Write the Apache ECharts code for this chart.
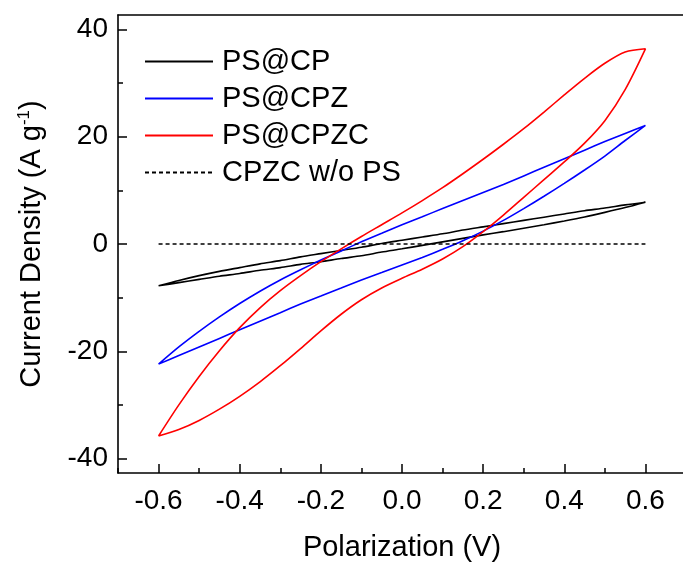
<!DOCTYPE html>
<html>
<head>
<meta charset="utf-8">
<script src="https://cdn.jsdelivr.net/npm/echarts@6/dist/echarts.min.js"></script>
<style>
html,body{margin:0;padding:0;background:#fff;}
#chart{width:683px;height:563px;}
</style>
</head>
<body>
<div id="chart"></div>
<script>
// Shared voltage grid (V), ascending from -0.6 to 0.6
var voltage = [-0.6,-0.55,-0.5,-0.45,-0.4,-0.35,-0.3,-0.25,-0.2,-0.15,-0.1,-0.05,0,0.05,0.1,0.15,0.2,0.25,0.3,0.35,0.4,0.45,0.5,0.55,0.6];

// PS@CP (A g^-1): forward (upper) and reverse (lower) branches, listed in ascending voltage
var cpUpper = [-7.8,-6.8,-5.9,-5.1,-4.4,-3.7,-3.1,-2.4,-1.8,-1.2,-0.6,0.1,0.7,1.3,1.9,2.6,3.2,3.8,4.4,5.0,5.6,6.2,6.7,7.3,7.8];
var cpLower = [-7.8,-7.2,-6.6,-6.0,-5.5,-4.9,-4.4,-3.8,-3.3,-2.7,-2.2,-1.5,-0.9,-0.25,0.4,1.05,1.7,2.3,2.95,3.6,4.3,5.05,5.9,6.8,7.8];

// PS@CPZ
var cpzUpper = [-22.4,-19.2,-16.3,-13.6,-11.1,-8.8,-6.7,-4.8,-3.0,-1.3,0.4,2.0,3.6,5.1,6.6,8.1,9.6,11.1,12.7,14.3,15.9,17.5,19.1,20.6,22.1];
var cpzLower = [-22.4,-20.8,-19.2,-17.6,-16.0,-14.4,-12.8,-11.2,-9.7,-8.2,-6.7,-5.3,-3.9,-2.5,-1.0,0.6,2.4,4.4,6.6,8.9,11.3,13.8,16.4,19.3,22.1];

// PS@CPZC
var cpzcUpper = [-35.8,-30.0,-24.7,-19.9,-15.6,-11.9,-8.7,-5.9,-3.3,-0.9,1.4,3.6,5.8,8.1,10.5,13.1,15.8,18.6,21.5,24.6,27.8,30.9,33.7,35.8,36.4];
var cpzcLower = [-35.8,-34.6,-32.9,-30.8,-28.4,-25.7,-22.7,-19.5,-16.2,-13.1,-10.4,-8.2,-6.4,-4.7,-2.8,-0.5,2.3,5.4,8.7,12.0,15.3,18.8,23.0,28.8,36.4];

// CPZC w/o PS
var bareV = [-0.6, 0.6];
var bareJ = [0, 0];

// Axis ticks
var xMajorTicks = [-0.6,-0.4,-0.2,0,0.2,0.4,0.6];
var xMinorTicks = [-0.7,-0.5,-0.3,-0.1,0.1,0.3,0.5];
var yMajorTicks = [-40,-20,0,20,40];
var yMinorTicks = [-30,-10,10,30];

var seriesNames = ['PS@CP','PS@CPZ','PS@CPZC','CPZC w/o PS'];

function loop(upper, lower) {
  var pts = [];
  for (var i = 0; i < voltage.length; i++) pts.push([voltage[i], upper[i]]);
  for (var j = voltage.length - 1; j >= 0; j--) pts.push([voltage[j], lower[j]]);
  return pts;
}
function pairs(xs, ys) {
  return xs.map(function (x, i) { return [x, ys[i]]; });
}

var FONT = 'Liberation Sans, Arial, sans-serif';
var X_MIN = -0.7, X_MAX = 0.7, Y_MIN = -42.7, Y_MAX = 42.7;

var chart = echarts.init(document.getElementById('chart'));
chart.setOption({
  animation: false,
  backgroundColor: '#ffffff',
  textStyle: { fontFamily: FONT },
  grid: { left: 118, top: 15, width: 568, height: 458, outerBoundsMode: 'none', containLabel: false },
  legend: {
    orient: 'vertical',
    left: 144,
    top: 47,
    padding: 0,
    itemWidth: 68,
    itemHeight: 14,
    itemGap: 8,
    data: seriesNames,
    itemStyle: { opacity: 0 },
    textStyle: { fontSize: 29, color: '#000', fontFamily: FONT, lineHeight: 29, padding: [0, 0, 0, 4] }
  },
  xAxis: [{
    type: 'value', min: X_MIN, max: X_MAX, position: 'bottom',
    name: 'Polarization (V)', nameLocation: 'middle', nameGap: 60,
    nameTextStyle: { fontSize: 29, color: '#000', fontFamily: FONT },
    axisLine: { show: true, onZero: false, lineStyle: { color: '#000', width: 1.6 } },
    axisTick: { show: true, inside: true, length: 9, customValues: xMajorTicks, lineStyle: { color: '#000', width: 1.5 } },
    axisLabel: { show: true, customValues: xMajorTicks, margin: 14, fontSize: 28, color: '#000', fontFamily: FONT,
      formatter: function (v) { return v.toFixed(1); } },
    splitLine: { show: false }
  }, {
    type: 'value', min: X_MIN, max: X_MAX, position: 'bottom',
    axisLine: { show: false, onZero: false },
    axisTick: { show: true, inside: true, length: 5, customValues: xMinorTicks, lineStyle: { color: '#000', width: 1.5 } },
    axisLabel: { show: false },
    splitLine: { show: false }
  }, {
    type: 'value', min: X_MIN, max: X_MAX, position: 'top',
    axisLine: { show: true, onZero: false, lineStyle: { color: '#000', width: 1.6 } },
    axisTick: { show: false }, axisLabel: { show: false }, splitLine: { show: false }
  }],
  yAxis: [{
    type: 'value', min: Y_MIN, max: Y_MAX, position: 'left',
    name: '{a|Current Density (A g}{s|-1}{a|)}', nameLocation: 'middle', nameGap: 70,
    nameTextStyle: {
      color: '#000', fontFamily: FONT,
      rich: {
        a: { fontSize: 29, lineHeight: 32, color: '#000', fontFamily: FONT },
        s: { fontSize: 17, lineHeight: 32, verticalAlign: 'top', color: '#000', fontFamily: FONT, padding: [0, 0, 12, 0] }
      }
    },
    axisLine: { show: true, onZero: false, lineStyle: { color: '#000', width: 1.6 } },
    axisTick: { show: true, inside: true, length: 9, customValues: yMajorTicks, lineStyle: { color: '#000', width: 1.5 } },
    axisLabel: { show: true, customValues: yMajorTicks, margin: 10, fontSize: 28, color: '#000', fontFamily: FONT },
    splitLine: { show: false }
  }, {
    type: 'value', min: Y_MIN, max: Y_MAX, position: 'left',
    axisLine: { show: false, onZero: false },
    axisTick: { show: true, inside: true, length: 5, customValues: yMinorTicks, lineStyle: { color: '#000', width: 1.5 } },
    axisLabel: { show: false },
    splitLine: { show: false }
  }],
  series: [{
    name: seriesNames[0], type: 'line', symbol: 'none', smooth: 0.25,
    data: loop(cpUpper, cpLower),
    lineStyle: { color: '#000000', width: 1.6 }, itemStyle: { color: '#000000' }
  }, {
    name: seriesNames[1], type: 'line', symbol: 'none', smooth: 0.25,
    data: loop(cpzUpper, cpzLower),
    lineStyle: { color: '#0000ff', width: 1.6 }, itemStyle: { color: '#0000ff' }
  }, {
    name: seriesNames[2], type: 'line', symbol: 'none', smooth: 0.3,
    data: loop(cpzcUpper, cpzcLower),
    lineStyle: { color: '#ff0000', width: 1.6 }, itemStyle: { color: '#ff0000' }
  }, {
    name: seriesNames[3], type: 'line', symbol: 'none',
    data: pairs(bareV, bareJ),
    lineStyle: { color: '#000000', width: 1.6, type: [4, 3] }, itemStyle: { color: '#000000' }
  }]
});
</script>
</body>
</html>
